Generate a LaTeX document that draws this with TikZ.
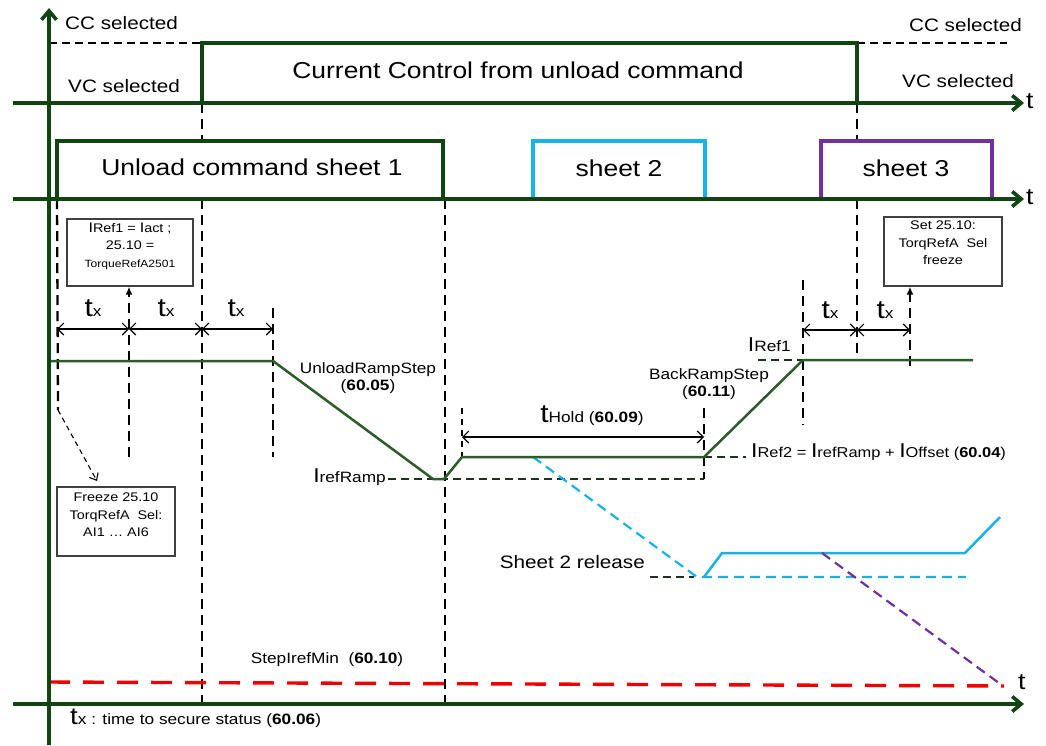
\documentclass[tikz,border=0pt]{standalone}
\usepackage{fontspec}
\setmainfont{Liberation Sans}[FakeStretch=1.15]
\usetikzlibrary{arrows.meta,calc}
\definecolor{axisgreen}{RGB}{16,68,16}
\definecolor{siggreen}{RGB}{44,92,40}
\definecolor{lvlgreen}{RGB}{30,48,30}
\definecolor{sheetcyan}{RGB}{22,178,232}
\definecolor{sheetpurple}{RGB}{112,48,160}
\definecolor{refred}{RGB}{240,0,0}
\newcommand\fsz[1]{\fontsize{#1}{#1}\selectfont}
\newcommand\bigI{{\fsz{20}I}}
\tikzset{
  axis/.style={draw=axisgreen,line width=3.6pt},
  axarrow/.style={axis,-{Straight Barb[length=9pt,width=15pt]}},
  ccline/.style={draw=axisgreen,line width=3.2pt},
  sheetbox/.style={line width=3.2pt},
  vdash/.style={draw=black,line width=2.3pt,dash pattern=on 10pt off 6pt},
  lvldash/.style={draw=lvlgreen,line width=2pt,dash pattern=on 8pt off 5pt},
  thindash/.style={draw=black,line width=1.5pt,dash pattern=on 8pt off 5pt},
  dim/.style={draw=black,line width=1.1pt,
    {Straight Barb[length=6pt,width=12pt]}-{Straight Barb[length=6pt,width=12pt]}},
  uparrow/.style={vdash,-{Latex[length=8pt,width=7pt]}},
  sig/.style={draw=siggreen,line width=2.5pt,line join=round},
  infobox/.style={draw=black!75,line width=1.4pt,fill=white,inner sep=0pt},
  infotext/.style={align=center,font=\fontsize{12.5}{17.5}\selectfont,inner sep=0pt},
  axlabel/.style={font=\fsz{23},inner sep=0pt},
  txlabel/.style={inner sep=0pt},
}
\begin{document}
\begin{tikzpicture}[x=1pt,y=-1pt,font=\fsz{15}]
\useasboundingbox[fill=white] (0,0) rectangle (1046,745);

% event times along the time axis
\coordinate (t0) at (57,0);
\coordinate (t1) at (129,0);
\coordinate (t2) at (202,0);
\coordinate (t3) at (273,0);
\coordinate (t4) at (445,0);
\coordinate (t5) at (462,0);
\coordinate (t6) at (704,0);
\coordinate (t7) at (803,0);
\coordinate (t8) at (857,0);
\coordinate (t9) at (910,0);

% ---------- info boxes ----------
\node[infobox,minimum width=126pt,minimum height=67pt] (iref) at (130,252.5) {};
\node[infotext] (ireftxt) at (130,246) {{\fsz{14}I}Ref1 = {\fsz{14}I}act ;\\25.10 =\\{\fsz{10.5}TorqueRefA2501}};
\node[infobox,minimum width=118pt,minimum height=69pt] (setbox) at (943,251.5) {};
\node[infotext] (settxt) at (943,243) {Set 25.10:\\TorqRefA~ Sel\\freeze};
\node[infobox,minimum width=118pt,minimum height=69pt] (frz) at (116,521.5) {};
\node[infotext] (frztxt) at (116,515) {Freeze 25.10\\TorqRefA~ Sel:\\AI1 … AI6};

% ---------- dashed time markers ----------
\draw[vdash] (t2 |- 0,103) -- (t2 |- 0,141);
\draw[vdash] (t2 |- 0,199) -- (t2 |- 0,704);
\draw[vdash] (t4 |- 0,199) -- (t4 |- 0,704);
\coordinate (fzs) at (58,410);
\coordinate (fze) at (97,481);
\draw[vdash] (t0 |- 0,199) -- (fzs);
\draw[thindash,line width=1.1pt,dash pattern=on 5pt off 4pt,-{Straight Barb[length=6pt,width=10pt]}] (fzs) -- (fze);
\draw[uparrow] (t1 |- 0,457) -- (t1 |- iref.south);
\draw[vdash] (t3 |- 0,308) -- (t3 |- 0,457);
\draw[vdash,line width=1.5pt,dash pattern=on 6pt off 5pt] (t5 |- 0,408) -- (t5 |- 0,457);
\draw[vdash] (t6 |- 0,408) -- (t6 |- 0,479);
\draw[vdash] (t7 |- 0,280) -- (t7 |- 0,425);
\draw[vdash] (t8 |- 0,103) -- (t8 |- 0,141);
\draw[vdash] (t8 |- 0,199) -- (t8 |- 0,360);
\draw[uparrow] (t9 |- 0,366) -- (t9 |- setbox.south);

% ---------- secure-status intervals ----------
\draw[dim] (t0 |- 0,329) -- (t1 |- 0,329);
\draw[dim] (t1 |- 0,329) -- (t2 |- 0,329);
\draw[dim] (t2 |- 0,329) -- (t3 |- 0,329);
\draw[dim] (t7 |- 0,330) -- (t8 |- 0,330);
\draw[dim] (t8 |- 0,330) -- (t9 |- 0,330);
\draw[dim] (t5 |- 0,437) -- (t6 |- 0,437);
\node[txlabel] (tx1) at (93,308) {{\fsz{26}t}{\fsz{15}x}};
\node[txlabel] (tx2) at (166,308) {{\fsz{26}t}{\fsz{15}x}};
\node[txlabel] (tx3) at (236,308) {{\fsz{26}t}{\fsz{15}x}};
\node[txlabel] (tx4) at (830,310) {{\fsz{26}t}{\fsz{15}x}};
\node[txlabel] (tx5) at (885,310) {{\fsz{26}t}{\fsz{15}x}};
\node[txlabel] (thold) at (592,416) {{\fsz{26}t}{\fsz{15}Hold (\textbf{60.09})}};

% ---------- reference levels ----------
\draw[lvldash] (388,479) -- (t6 |- 0,479);
\draw[lvldash] (t6 |- 0,457) -- (746,457);
\draw[lvldash] (758,360) -- (t7 |- 0,360);
\draw[lvldash] (650,577) -- (694,577);

% ---------- sheet 2 / sheet 3 current ----------
\draw[draw=sheetcyan,line width=2.2pt,dash pattern=on 10pt off 6pt] (533,457) -- (697,577) -- (966,577);
\draw[draw=sheetcyan,line width=2.5pt,line join=round] (704,577) -- (722,553) -- (965,553) -- (1000,517);
\draw[draw=sheetpurple,line width=2.2pt,dash pattern=on 10pt off 6pt] (822,553) -- (1003,686);
\draw[draw=refred,line width=3.4pt,dash pattern=on 21pt off 13pt] (49,682) -- (1004,686);

% ---------- sheet 1 current ----------
\draw[sig] (49,361) -- (t3 |- 0,361) -- (433,479) -- (444,479) -- (t5 |- 0,457)
  -- (t6 |- 0,457) -- (t7 |- 0,360) -- (973,360);

% ---------- labels ----------
\node[align=center,inner sep=0pt] (urs) at (368,378) {UnloadRampStep\\[2pt](\textbf{60.05})};
\node[align=center,inner sep=0pt] (brs) at (709,384) {BackRampStep\\[2pt](\textbf{60.11})};
\node[anchor=east,inner sep=0pt] (irr) at (386,477) {\bigI{\fsz{15}refRamp}};
\node[anchor=east,inner sep=0pt] (ir1) at (791,345) {\bigI{\fsz{15}Ref1}};
\node[anchor=west,inner sep=0pt,font=\fsz{14.3}] (ir2) at (751,452) {\bigI Ref2 = \bigI refRamp + \bigI Offset (\textbf{60.04})};
\node[anchor=east,inner sep=0pt,font=\fsz{18}] (s2r) at (645,562) {Sheet 2 release};
\node[inner sep=0pt] (stepmin) at (327,660) {StepIrefMin~ (\textbf{60.10})};
\node[anchor=west,inner sep=0pt] (txnote) at (70,718) {{\fsz{24}t}{\fsz{15}x : time to secure status (\textbf{60.06})}};

% ---------- control mode ----------
\draw[thindash] (49,43) -- (t2 |- 0,43);
\draw[thindash] (t8 |- 0,43) -- (1007,43);
\draw[ccline] (t2 |- 0,103) -- (t2 |- 0,43) -- (t8 |- 0,43) -- (t8 |- 0,103);
\node[anchor=west,inner sep=0pt,font=\fsz{18}] (cc1) at (65,23) {CC selected};
\node[anchor=west,inner sep=0pt,font=\fsz{18}] (vc1) at (68,86) {VC selected};
\node[anchor=east,inner sep=0pt,font=\fsz{18}] (cc2) at (1022,25) {CC selected};
\node[anchor=east,inner sep=0pt,font=\fsz{18}] (vc2) at (1014,81) {VC selected};
\node[inner sep=0pt,font=\fsz{23}] (ccu) at (518,70) {Current Control from unload command};

% ---------- sheets ----------
\draw[sheetbox,draw=axisgreen] (t0 |- 0,199) -- (t0 |- 0,141) -- (443,141) -- (443,199);
\draw[sheetbox,draw=sheetcyan] (533,199) -- (533,141) -- (705,141) -- (705,199);
\draw[sheetbox,draw=sheetpurple] (821,199) -- (821,141) -- (992,141) -- (992,199);
\node[inner sep=0pt,font=\fsz{23}] (sh1) at (252,167) {Unload command sheet 1};
\node[inner sep=0pt,font=\fsz{23}] (sh2) at (619,168) {sheet 2};
\node[inner sep=0pt,font=\fsz{23}] (sh3) at (906,168) {sheet 3};

% ---------- axes ----------
\coordinate (yb) at (49,745);
\coordinate (yt) at (49,8);
\draw[axarrow] (yb) -- (yt);
\coordinate (a1s) at (13,103);
\coordinate (a1e) at (1024,103);
\coordinate (a2s) at (13,199);
\coordinate (a2e) at (1024,199);
\coordinate (a3s) at (13,704);
\coordinate (a3e) at (1024,704);
\draw[axarrow] (a1s) -- (a1e);
\draw[axarrow] (a2s) -- (a2e);
\draw[axarrow] (a3s) -- (a3e);
\node[axlabel,anchor=west] (ta1) at (1026,101) {t};
\node[axlabel,anchor=west] (ta2) at (1026,197) {t};
\node[axlabel,anchor=west] (ta3) at (1018,682) {t};
\end{tikzpicture}
\end{document}
